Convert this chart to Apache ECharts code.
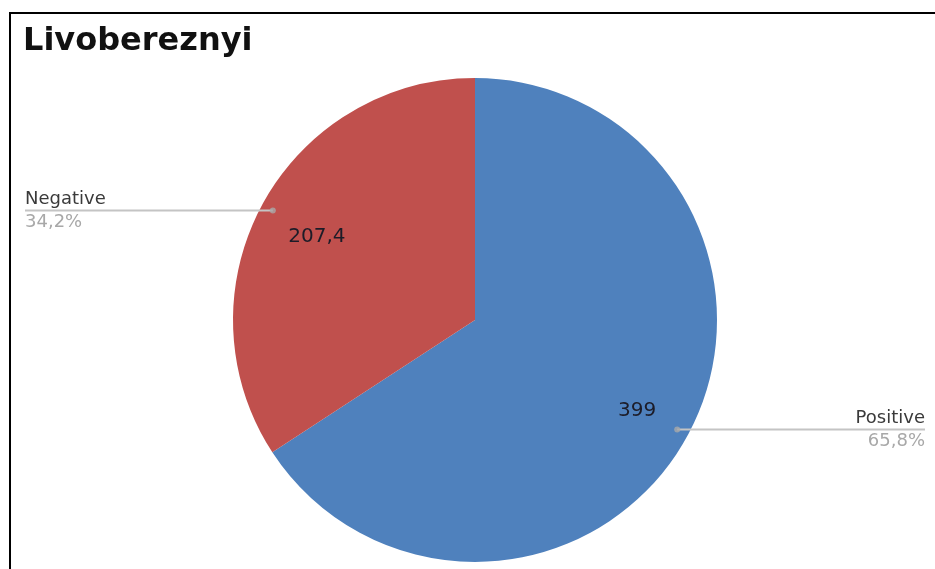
<!DOCTYPE html>
<html>
<head>
<meta charset="utf-8">
<script src="https://cdn.jsdelivr.net/npm/echarts@6/dist/echarts.min.js"></script>
<style>
  html, body { margin: 0; padding: 0; background: #fff; }
  #chart { width: 935px; height: 569px; }
</style>
</head>
<body>
<div id="chart"></div>
<script>
// Sentiment split for Livobereznyi
const chartTitle = 'Livobereznyi';
const categories = ['Positive', 'Negative'];
const values = [399, 207.4];
const colors = ['#4F81BD', '#C0504D'];

const CENTER = [475, 320];
const RADIUS = 242;
const LABEL_FONT = '"DejaVu Sans", Verdana, sans-serif';

const fmtNum = (v, digits) => {
  const s = digits == null ? String(v) : v.toFixed(digits);
  return s.replace('.', ',');
};

const pieData = categories.map((name, i) => ({ name, value: values[i] }));
const total = values.reduce((a, b) => a + b, 0);

// marker dots at the middle of each slice, placed on a polar system that mirrors the pie
let acc = 0;
const dotData = values.map(v => {
  const mid = acc + v / 2;
  acc += v;
  return [0.95, mid];
});

const chart = echarts.init(document.getElementById('chart'), null, { renderer: 'canvas' });

const transparent = { color: 'rgba(0,0,0,0)' };

chart.setOption({
  backgroundColor: '#ffffff',
  animation: false,
  title: {
    text: chartTitle,
    left: 23,
    top: 26,
    padding: 0,
    textStyle: {
      fontFamily: '"DejaVu Sans", sans-serif',
      fontWeight: 'bold',
      fontSize: 32,
      color: '#111111'
    }
  },
  graphic: [{
    type: 'rect',
    shape: { x: 10, y: 13, width: 2000, height: 2000 },
    style: { fill: 'none', stroke: '#000000', lineWidth: 2 },
    silent: true,
    z: 100
  }],
  polar: { center: CENTER, radius: RADIUS },
  angleAxis: { type: 'value', min: 0, max: total, startAngle: 90, clockwise: true, show: false },
  radiusAxis: { type: 'value', min: 0, max: 1, show: false },
  series: [
    {
      // the filled slices
      type: 'pie',
      center: CENTER,
      radius: [0, RADIUS],
      startAngle: 90,
      clockwise: true,
      silent: true,
      label: { show: false },
      labelLine: { show: false },
      itemStyle: { borderWidth: 0 },
      data: pieData.map((d, i) => ({ ...d, itemStyle: { color: colors[i] } }))
    },
    {
      // value labels inside the slices
      type: 'pie',
      center: CENTER,
      radius: [RADIUS * 0.48, RADIUS],
      startAngle: 90,
      clockwise: true,
      silent: true,
      z: 3,
      itemStyle: transparent,
      emphasis: { disabled: true },
      label: {
        show: true,
        position: 'inside',
        offset: [2, 4],
        formatter: p => fmtNum(p.value),
        fontFamily: LABEL_FONT,
        fontSize: 20,
        color: '#1c1c28'
      },
      labelLine: { show: false },
      data: pieData
    },
    {
      // category name + share, with leader lines to the chart edges
      type: 'pie',
      center: CENTER,
      radius: [0, RADIUS * 0.95],
      startAngle: 90,
      clockwise: true,
      silent: true,
      z: 4,
      avoidLabelOverlap: false,
      itemStyle: transparent,
      emphasis: { disabled: true },
      label: {
        show: true,
        position: 'outer',
        formatter: p => '{n|' + p.name + '}\n{p|' + fmtNum(p.percent, 1) + '%}',
        rich: {
          n: { fontFamily: LABEL_FONT, fontSize: 18, color: '#3a3a3a', lineHeight: 23 },
          p: { fontFamily: LABEL_FONT, fontSize: 18, color: '#a8a8a8', lineHeight: 23 }
        }
      },
      labelLine: { show: true, length: 20, length2: 20, lineStyle: { color: '#c4c4c4', width: 2 } },
      labelLayout: function (params) {
        const pts = params.labelLinePoints;
        const start = pts ? pts[0] : [CENTER[0], CENTER[1]];
        const rightSide = start[0] >= CENTER[0];
        const edgeX = rightSide ? 925 : 25;
        return {
          x: edgeX,
          y: start[1],
          align: rightSide ? 'right' : 'left',
          verticalAlign: 'middle',
          labelLinePoints: [start, [(start[0] + edgeX) / 2, start[1]], [edgeX, start[1]]]
        };
      },
      data: pieData
    },
    {
      // small dots where the leader lines begin
      type: 'scatter',
      coordinateSystem: 'polar',
      silent: true,
      z: 5,
      symbol: 'circle',
      symbolSize: 6,
      itemStyle: { color: '#a9a9a9' },
      data: dotData
    }
  ]
});
</script>
</body>
</html>
